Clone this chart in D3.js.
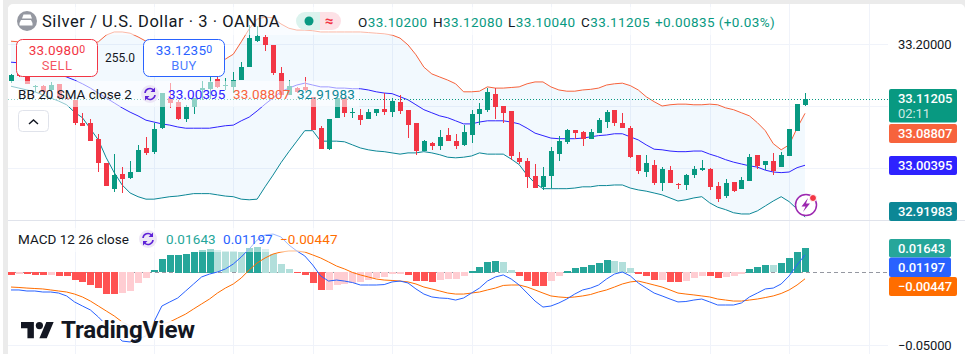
<!DOCTYPE html>
<html><head><meta charset="utf-8">
<script src="https://cdn.jsdelivr.net/npm/d3@7"></script>
<style>
html,body{margin:0;padding:0;background:#fff;overflow:hidden}
svg{display:block}
text{font-family:Roboto,"Noto Sans",sans-serif}
</style></head><body><svg id="c" width="965" height="354"></svg>
<script>
const open=[33.141,33.155,33.158,33.131,33.133,33.126,33.136,33.113,33.110,33.073,33.073,33.047,33.008,32.966,32.990,32.983,32.993,33.032,33.026,33.064,33.113,33.107,33.079,33.099,33.126,33.128,33.144,33.133,33.131,33.142,33.163,33.205,33.212,33.199,33.154,33.118,33.129,33.131,33.115,33.064,33.030,33.081,33.113,33.089,33.086,33.079,33.089,33.095,33.090,33.107,33.094,33.073,33.027,33.040,33.035,33.053,33.043,33.037,33.053,33.087,33.094,33.120,33.100,33.092,33.016,33.011,32.987,32.969,32.987,33.022,33.042,33.061,33.058,33.047,33.056,33.074,33.094,33.073,33.064,33.021,32.993,33.005,32.975,32.996,32.974,32.972,32.988,32.996,32.998,32.971,32.954,32.977,32.966,32.979,33.021,33.005,33.011,33.001,33.019,33.060,33.102];
const high=[33.152,33.158,33.162,33.134,33.134,33.139,33.136,33.115,33.110,33.089,33.079,33.055,33.008,33.022,33.001,33.011,33.037,33.050,33.073,33.121,33.137,33.110,33.102,33.113,33.141,33.147,33.150,33.145,33.155,33.171,33.231,33.230,33.215,33.199,33.163,33.142,33.131,33.147,33.115,33.068,33.079,33.113,33.113,33.097,33.095,33.095,33.095,33.121,33.113,33.118,33.094,33.073,33.045,33.042,33.061,33.064,33.055,33.069,33.094,33.105,33.129,33.129,33.100,33.092,33.026,33.016,33.006,33.001,33.034,33.052,33.063,33.061,33.060,33.063,33.081,33.094,33.094,33.089,33.068,33.021,33.021,33.013,33.001,33.003,32.975,32.990,33.003,33.013,33.000,32.977,32.982,32.977,32.985,33.022,33.021,33.011,33.024,33.026,33.063,33.103,33.1208];
const low=[33.137,33.147,33.136,33.123,33.123,33.124,33.113,33.110,33.069,33.068,33.043,32.993,32.971,32.961,32.959,32.982,32.993,33.021,33.022,33.063,33.097,33.077,33.074,33.087,33.110,33.111,33.129,33.126,33.121,33.142,33.163,33.204,33.189,33.150,33.118,33.118,33.121,33.124,33.061,33.030,33.029,33.081,33.082,33.081,33.069,33.079,33.084,33.086,33.082,33.087,33.048,33.021,33.027,33.029,33.029,33.043,33.030,33.035,33.040,33.069,33.090,33.079,33.073,33.013,33.006,32.967,32.967,32.964,32.967,33.011,33.039,33.047,33.035,33.047,33.056,33.064,33.068,33.064,33.016,32.990,32.985,32.972,32.962,32.975,32.966,32.964,32.983,32.995,32.964,32.944,32.951,32.961,32.966,32.979,32.998,32.996,32.988,33.001,33.019,33.060,33.1004];
const close=[33.150,33.149,33.136,33.133,33.123,33.134,33.113,33.111,33.073,33.068,33.043,33.008,32.971,32.988,32.982,32.993,33.029,33.024,33.063,33.121,33.105,33.079,33.099,33.113,33.129,33.139,33.131,33.134,33.142,33.163,33.210,33.214,33.199,33.154,33.118,33.133,33.123,33.126,33.061,33.030,33.079,33.113,33.089,33.090,33.077,33.090,33.095,33.090,33.108,33.092,33.069,33.027,33.043,33.035,33.050,33.043,33.035,33.058,33.087,33.095,33.123,33.099,33.089,33.019,33.009,32.985,32.967,32.987,33.027,33.043,33.061,33.056,33.047,33.058,33.077,33.090,33.073,33.064,33.017,32.995,33.008,32.975,32.998,32.975,32.972,32.988,32.998,33.000,32.969,32.949,32.975,32.962,32.980,33.017,33.003,33.011,32.995,33.021,33.063,33.103,33.11205];
const bbUpper=[33.205,33.204,33.202,33.201,33.199,33.197,33.197,33.197,33.199,33.199,33.201,33.204,33.215,33.220,33.220,33.218,33.212,33.205,33.200,33.196,33.191,33.188,33.184,33.181,33.178,33.176,33.175,33.176,33.184,33.204,33.225,33.241,33.244,33.243,33.233,33.226,33.223,33.223,33.222,33.220,33.220,33.220,33.220,33.220,33.220,33.219,33.218,33.217,33.215,33.210,33.199,33.183,33.163,33.152,33.147,33.142,33.136,33.123,33.123,33.124,33.131,33.129,33.129,33.130,33.131,33.136,33.139,33.139,33.131,33.126,33.124,33.124,33.126,33.127,33.129,33.134,33.136,33.137,33.133,33.126,33.115,33.107,33.100,33.102,33.103,33.103,33.102,33.102,33.103,33.102,33.097,33.094,33.089,33.084,33.073,33.060,33.039,33.029,33.037,33.064,33.08807];
const bbBasis=[33.171,33.170,33.168,33.165,33.160,33.157,33.152,33.147,33.142,33.136,33.129,33.121,33.113,33.105,33.097,33.090,33.084,33.077,33.074,33.071,33.069,33.066,33.064,33.064,33.064,33.064,33.066,33.068,33.069,33.076,33.082,33.092,33.103,33.113,33.123,33.129,33.134,33.137,33.134,33.131,33.131,33.129,33.129,33.128,33.128,33.126,33.123,33.121,33.120,33.115,33.110,33.102,33.094,33.089,33.084,33.081,33.076,33.071,33.071,33.074,33.076,33.076,33.076,33.074,33.071,33.064,33.056,33.052,33.048,33.047,33.047,33.047,33.048,33.050,33.052,33.053,33.055,33.055,33.050,33.045,33.037,33.030,33.029,33.027,33.026,33.026,33.027,33.027,33.022,33.018,33.013,33.009,33.006,33.003,33.001,32.996,32.993,32.992,32.993,33.000,33.00395];
const bbLower=[33.132,33.129,33.126,33.123,33.118,33.113,33.108,33.102,33.090,33.081,33.063,33.045,33.016,32.992,32.972,32.959,32.953,32.949,32.949,32.951,32.953,32.954,32.956,32.958,32.958,32.958,32.956,32.954,32.953,32.949,32.948,32.949,32.969,32.988,33.008,33.026,33.043,33.060,33.060,33.043,33.043,33.043,33.042,33.037,33.032,33.029,33.027,33.026,33.024,33.022,33.024,33.024,33.026,33.024,33.021,33.017,33.016,33.017,33.019,33.024,33.022,33.022,33.022,33.014,33.005,32.988,32.975,32.966,32.966,32.966,32.966,32.967,32.969,32.969,32.971,32.971,32.972,32.972,32.967,32.964,32.962,32.959,32.956,32.951,32.946,32.948,32.951,32.953,32.943,32.936,32.932,32.927,32.925,32.925,32.930,32.938,32.946,32.953,32.945,32.933,32.91983];
const macdHist=[-.0021,-.0014,-.0017,-.0021,-.0022,-.0021,-.0027,-.0029,-.0057,-.0071,-.0091,-.0112,-.0153,-.0154,-.0144,-.0130,-.0077,-.0043,.0014,.0089,.0119,.0121,.0127,.0141,.0155,.0162,.0153,.0148,.0144,.0141,.0168,.0175,.0162,.0127,.0059,.0025,-.0009,-.0021,-.0077,-.0125,-.0123,-.0091,-.0082,-.0073,-.0071,-.0055,-.0043,-.0036,-.0015,-.0014,-.0023,-.0059,-.0062,-.0071,-.0055,-.0051,-.0050,-.0027,.0011,.0038,.0073,.0074,.0073,.0018,-.0029,-.0064,-.0096,-.0097,-.0064,-.0029,.0011,.0032,.0038,.0052,.0066,.0086,.0079,.0073,.0032,-.0016,-.0027,-.0056,-.0055,-.0068,-.0070,-.0062,-.0043,-.0025,-.0027,-.0041,-.0036,-.0027,-.0014,.0025,.0038,.0052,.0051,.0066,.0100,.0141,.01643];
const macdLine=[-.0121,-.0121,-.0128,-.0128,-.0135,-.0135,-.0142,-.0162,-.0203,-.0231,-.0258,-.0306,-.0361,-.0416,-.0471,-.0477,-.0457,-.0436,-.0340,-.0231,-.0203,-.0176,-.0128,-.0080,-.0032,-.0012,.0002,.0023,.0057,.0105,.0160,.0221,.0256,.0262,.0242,.0187,.0146,.0112,.0050,-.0025,-.0060,-.0053,-.0060,-.0070,-.0087,-.0087,-.0087,-.0084,-.0066,-.0060,-.0073,-.0114,-.0149,-.0169,-.0176,-.0179,-.0190,-.0176,-.0142,-.0108,-.0060,-.0032,-.0018,-.0046,-.0087,-.0142,-.0197,-.0238,-.0231,-.0210,-.0183,-.0149,-.0121,-.0108,-.0087,-.0046,-.0012,.0002,-.0025,-.0073,-.0108,-.0142,-.0162,-.0183,-.0203,-.0200,-.0190,-.0183,-.0203,-.0224,-.0224,-.0224,-.0210,-.0169,-.0142,-.0114,-.0108,-.0080,-.0025,.0050,.01197];
const macdSignal=[-.0101,-.0104,-.0108,-.0111,-.0114,-.0121,-.0128,-.0135,-.0149,-.0169,-.0197,-.0231,-.0265,-.0299,-.0340,-.0368,-.0375,-.0375,-.0368,-.0354,-.0340,-.0313,-.0286,-.0251,-.0217,-.0183,-.0142,-.0108,-.0080,-.0039,.0016,.0064,.0098,.0125,.0139,.0146,.0146,.0139,.0119,.0098,.0071,.0043,.0023,-.0001,-.0018,-.0032,-.0046,-.0053,-.0056,-.0060,-.0066,-.0080,-.0101,-.0114,-.0128,-.0142,-.0149,-.0149,-.0142,-.0135,-.0121,-.0108,-.0090,-.0087,-.0087,-.0101,-.0121,-.0142,-.0162,-.0169,-.0173,-.0169,-.0162,-.0152,-.0135,-.0121,-.0101,-.0080,-.0066,-.0060,-.0073,-.0087,-.0101,-.0121,-.0142,-.0149,-.0155,-.0162,-.0169,-.0183,-.0190,-.0197,-.0197,-.0190,-.0183,-.0173,-.0162,-.0145,-.0121,-.0087,-.00447];
const priceTicks=[33.2];
const priceGrid=[33.2,33.1,33.0];
const macdTicks=[-0.05];
const timeGrid=[8,18,28,38,48,58,68,78,88,98,108];
const titleText="Silver / U.S. Dollar · 3 · OANDA";

const svg=d3.select("#c");
const x=d3.scaleLinear().domain([0,100]).range([11,805]);
const y=d3.scaleLinear().domain([33.2,33.0]).range([44.3,167.7]);
const ym=d3.scaleLinear().domain([0,-0.05]).range([272.3,345.3]);
const n=open.length, idx=d3.range(n);
const GREEN="#089981",RED="#f23645",UP="#f7633c",MID="#2e22ff",LOW="#0c8796";
const INK="#131722",RIGHT=888,LEFT=8;

// page
svg.append("rect").attr("width",965).attr("height",354).attr("fill","#fff");
svg.append("rect").attr("x",3).attr("width",962).attr("height",354).attr("fill","#ebebeb");
svg.append("rect").attr("x",LEFT).attr("y",4).attr("width",957).attr("height",360).attr("rx",5).attr("fill","#fff");

// grid
const g=svg.append("g").attr("shape-rendering","crispEdges");
g.selectAll(".v").data(timeGrid).join("line").attr("x1",d=>Math.round(x(d))+.5).attr("x2",d=>Math.round(x(d))+.5).attr("y1",4).attr("y2",354).attr("stroke","#f0f3fa");
g.selectAll(".h").data(priceGrid).join("line").attr("x1",LEFT).attr("x2",RIGHT).attr("y1",d=>Math.round(y(d))+.5).attr("y2",d=>Math.round(y(d))+.5).attr("stroke","#f0f3fa");
g.selectAll(".hm").data(macdTicks).join("line").attr("x1",LEFT).attr("x2",RIGHT).attr("y1",d=>Math.round(ym(d))+.5).attr("y2",d=>Math.round(ym(d))+.5).attr("stroke","#f0f3fa");
g.append("line").attr("x1",LEFT).attr("x2",965).attr("y1",220.5).attr("y2",220.5).attr("stroke","#e0e3eb");

// bands
const area=d3.area().x(i=>x(i)).y0(i=>y(bbLower[i])).y1(i=>y(bbUpper[i]));
svg.append("path").datum(idx).attr("d",area).attr("fill","#2196f3").attr("fill-opacity",.06);
const band=(arr,col)=>svg.append("path").datum(arr).attr("d",d3.line().x((d,i)=>x(i)).y(d=>y(d))).attr("fill","none").attr("stroke",col).attr("stroke-width",1);
band(bbUpper,UP);band(bbBasis,MID);band(bbLower,LOW);

// last price line
svg.append("line").attr("x1",LEFT).attr("x2",RIGHT).attr("y1",Math.round(y(close[n-1]))+.5).attr("y2",Math.round(y(close[n-1]))+.5)
  .attr("stroke",GREEN).attr("stroke-dasharray","1 2").attr("shape-rendering","crispEdges");

// candles
const cg=svg.append("g").attr("shape-rendering","crispEdges");
const col=i=>close[i]>=open[i]?GREEN:RED;
cg.selectAll(".w").data(idx).join("rect").attr("x",i=>Math.round(x(i))).attr("width",1)
  .attr("y",i=>Math.round(y(high[i]))).attr("height",i=>Math.max(1,Math.round(y(low[i]))-Math.round(y(high[i])))).attr("fill",col);
cg.selectAll(".b").data(idx).join("rect").attr("x",i=>Math.round(x(i))-2).attr("width",5)
  .attr("y",i=>Math.round(y(Math.max(open[i],close[i])))).attr("height",i=>Math.max(1,Math.round(y(Math.min(open[i],close[i])))-Math.round(y(Math.max(open[i],close[i]))))).attr("fill",col);

// MACD
svg.append("line").attr("x1",LEFT).attr("x2",RIGHT).attr("y1",272.5).attr("y2",272.5).attr("stroke","#9598a1").attr("stroke-dasharray","4 3").attr("shape-rendering","crispEdges");
const hc=i=>{const v=macdHist[i],p=i?macdHist[i-1]:0;return v>=0?(v>p?"#26a69a":"#b2dfdb"):(v<p?"#ff5252":"#ffcdd2");};
svg.append("g").attr("shape-rendering","crispEdges").selectAll("rect").data(idx).join("rect")
  .attr("x",i=>Math.round(x(i)-3)).attr("width",7)
  .attr("y",i=>Math.round(Math.min(ym(0),ym(macdHist[i])))).attr("height",i=>Math.max(1,Math.round(Math.abs(ym(macdHist[i])-ym(0))))).attr("fill",hc);
const ml=d3.line().x((d,i)=>x(i)).y(d=>ym(d));
svg.append("path").datum(macdSignal).attr("d",ml).attr("fill","none").attr("stroke","#ff6d00").attr("stroke-width",1);
svg.append("path").datum(macdLine).attr("d",ml).attr("fill","none").attr("stroke","#2962ff").attr("stroke-width",1);

// legend veils
svg.append("rect").attr("x",LEFT).attr("y",81).attr("width",351).attr("height",26).attr("fill","#fff").attr("fill-opacity",.55);
svg.append("rect").attr("x",LEFT).attr("y",228).attr("width",332).attr("height",24).attr("fill","#fff").attr("fill-opacity",.55);
svg.append("rect").attr("x",LEFT).attr("y",7).attr("width",770).attr("height",28).attr("fill","#fff").attr("fill-opacity",.55);

const T=(s,px,py,size,fill,anchor,w)=>svg.append("text").text(s).attr("x",px).attr("y",py).attr("font-size",size).attr("fill",fill).attr("text-anchor",anchor||"start").attr("font-weight",w||400);

// title
svg.append("circle").attr("cx",27).attr("cy",21).attr("r",10).attr("fill","#9598a1");
svg.append("path").attr("d","M23.5 14.5h7l1.5 4h-10z M19.5 23l1.5-3h10l1.5 3v2.5h-13z").attr("fill","#fff");
T(titleText,42,27,16.5,INK).attr("letter-spacing",.55);

// pill
svg.append("path").attr("d","M320 12H305a9 9 0 0 0 0 18H320z").attr("fill","#dcf3ee");
svg.append("path").attr("d","M320 12H332a9 9 0 0 1 0 18H320z").attr("fill","#fde1e6");
svg.append("circle").attr("cx",309).attr("cy",21).attr("r",4.5).attr("fill",GREEN);
T("≈",329,26,15,RED,"middle",700);

// OHLC
const ohlc=[["O","33.10200",358],["H","33.12080",433],["L","33.10040",508],["C","33.11205",581]];
ohlc.forEach(([k,v,px])=>{const t=T("",px,27,13.5,INK).attr("letter-spacing",.4);t.append("tspan").text(k);t.append("tspan").text(v).attr("fill",GREEN);});
T("+0.00835 (+0.03%)",655,27,13.5,GREEN).attr("letter-spacing",.4);

// trade boxes
const box=(bx,c,p,sup,lab)=>{
  svg.append("rect").attr("x",bx+.5).attr("y",39.5).attr("width",81).attr("height",37).attr("rx",6).attr("fill","#fff").attr("stroke",c);
  const t=T("",bx+41,55,13.5,c,"middle").attr("letter-spacing",.2);t.append("tspan").text(p);t.append("tspan").text(sup).attr("font-size",10.5).attr("dy",-2);
  T(lab,bx+41,70,13,c,"middle").attr("letter-spacing",.4).attr("fill-opacity",.85);
};
box(16,RED,"33.0980","0","SELL");
box(143,"#2962ff","33.1235","0","BUY");
T("255.0",120,62,12,INK,"middle");

// sync icon
const sync=(cx,cy)=>{
  svg.append("circle").attr("cx",cx).attr("cy",cy).attr("r",9).attr("fill","#ede7f6");
  svg.append("path").attr("d",`M${cx-5} ${cy-1}a5 5 0 0 1 8.5-3 M${cx+5} ${cy+1}a5 5 0 0 1-8.5 3`).attr("fill","none").attr("stroke","#5e22d8").attr("stroke-width",1.6);
  svg.append("path").attr("d",`M${cx+5} ${cy-6.5}v4.5h-4.5z M${cx-5} ${cy+6.5}v-4.5h4.5z`).attr("fill","#5e22d8");
};

// BB legend
T("BB 20 SMA close 2",18,99,13.5,INK);
sync(150,94);
T("33.00395",168,99,13.5,MID).attr("letter-spacing",.1);
T("33.08807",233,99,13.5,UP).attr("letter-spacing",.1);
T("32.91983",297,99,13.5,LOW).attr("letter-spacing",.15);

// collapse button
svg.append("rect").attr("x",18.5).attr("y",110.5).attr("width",30).attr("height",21).attr("rx",4).attr("fill","#fff").attr("stroke","#e0e3eb");
svg.append("path").attr("d","M29 124l4.5-4 4.5 4").attr("fill","none").attr("stroke",INK).attr("stroke-width",1.5);

// bolt
svg.append("circle").attr("cx",806).attr("cy",205).attr("r",10.5).attr("fill","#fff").attr("stroke","#9c27b0").attr("stroke-width",1.5);
svg.append("path").attr("d","M808 198l-6.5 8.5h4l-2.5 5.5 7-8.5h-4z").attr("fill","#9c27b0");
svg.append("circle").attr("cx",813).attr("cy",198).attr("r",3.5).attr("fill",RED).attr("stroke","#fff");

// MACD legend
T("MACD 12 26 close",18,244,13.5,INK);
sync(148,239);
T("0.01643",166,244,13.5,"#26a69a").attr("letter-spacing",.1);
T("0.01197",223,244,13.5,"#2962ff").attr("letter-spacing",.1);
T("−0.00447",280,244,13.5,"#ff6d00").attr("letter-spacing",.1);

// axes
const AXF=13;
const fmtP=d=>d3.format(".5f")(d), fmtM=d=>d3.format(".5f")(d).replace("-","−");
const ax=(scale,ticks,f)=>{
  const a=svg.append("g").attr("transform","translate(889,0)").call(d3.axisRight(scale).tickValues(ticks).tickFormat(f).tickSize(0).tickPadding(9));
  a.select(".domain").remove();
  a.selectAll("text").attr("font-family","Roboto,sans-serif").attr("font-size",AXF).attr("fill",INK).attr("letter-spacing",-.15);
};
ax(y,priceTicks,fmtP);ax(ym,macdTicks,fmtM);

// price labels
const lab=(top,h,w,c,txt)=>{
  svg.append("rect").attr("x",889).attr("y",top).attr("width",w).attr("height",h).attr("rx",2).attr("fill",c);
  T(txt,898,top+h/2+4.5,AXF,"#fff","start",500).attr("letter-spacing",-.15);
};
svg.append("rect").attr("x",889).attr("y",89).attr("width",68).attr("height",33.5).attr("rx",2).attr("fill",GREEN);
T(fmtP(close[n-1]),898,103,AXF,"#fff","start",500).attr("letter-spacing",-.15);
T("02:11",898,118,AXF,"#fff","start",400).attr("letter-spacing",-.1).attr("fill-opacity",.8);
lab(124,19,68,UP,fmtP(bbUpper[n-1]));
lab(156,19,68,MID,fmtP(bbBasis[n-1]));
lab(202,19,68,LOW,fmtP(bbLower[n-1]));
lab(239,18.5,62,"#26a69a",fmtM(macdHist[n-1]));
lab(257.5,19.5,62,"#2962ff",fmtM(macdLine[n-1]));
lab(277,19,68,"#ff6d00",fmtM(macdSignal[n-1]));

// logo
svg.append("rect").attr("x",61).attr("y",321).attr("width",134).attr("height",18).attr("fill","#fff").attr("fill-opacity",.9);
svg.append("path").attr("transform","translate(21,318.4) scale(.92,.9)")
  .attr("d","M14 22H7V11H0V4h14v18zM28 22h-8l7.5-18h8L28 22z").attr("fill","#131722").attr("stroke","#fff").attr("stroke-width",3).attr("paint-order","stroke");
svg.append("circle").attr("cx",39.4).attr("cy",325.6).attr("r",3.6).attr("fill","#131722");
T("TradingView",61,338,24.2,"#131722","start",700).attr("letter-spacing",-.2);
</script></body></html>
